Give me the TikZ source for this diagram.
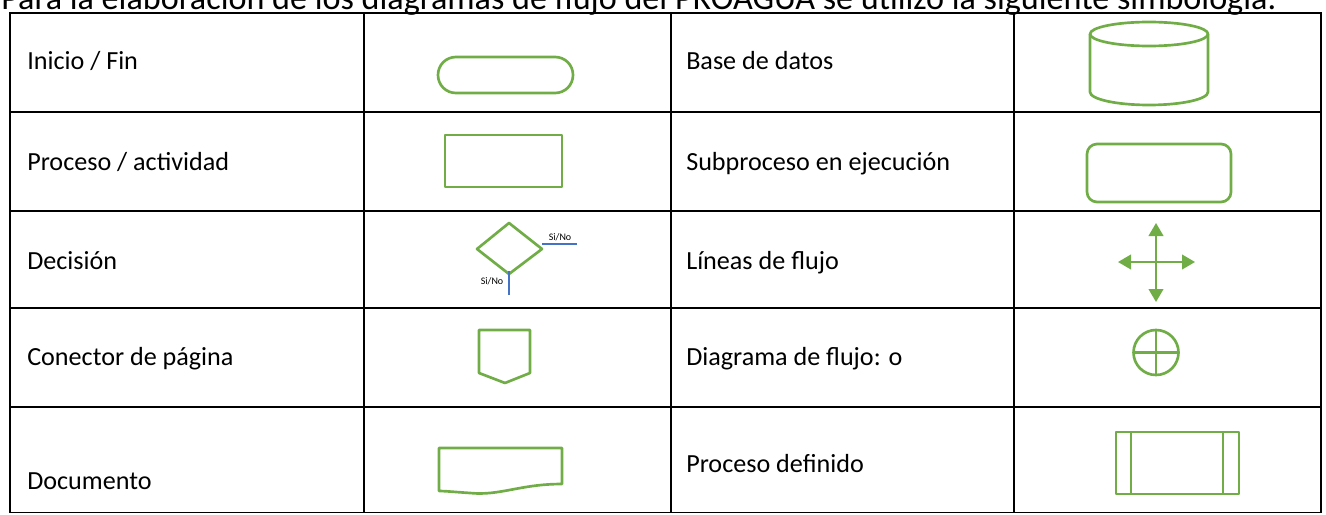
\documentclass[tikz,border=0pt]{standalone}
\usepackage{fontspec}
\setmainfont{Carlito}
\usetikzlibrary{arrows.meta}
\definecolor{sgreen}{HTML}{70AD47}
\definecolor{sblue}{HTML}{4472C4}
\tikzset{
  grid/.style={line width=1.2pt, black},
  sym/.style={line width=2pt, sgreen, line join=round},
  flow/.style={line width=1.1pt, sblue},
  lbl/.style={anchor=base west, inner sep=0pt, font=\fontsize{19.6pt}{23pt}\selectfont},
  headlbl/.style={anchor=base west, inner sep=0pt, font=\fontsize{25.6pt}{30pt}\selectfont},
  tiny/.style={inner sep=0pt, font=\fontsize{7.5pt}{9pt}\selectfont},
  tip/.style={-{Triangle[length=9.75pt, width=11pt]}, line width=1.5pt, sgreen}
}
\begin{document}
\begin{tikzpicture}[x=0.75pt, y=-0.75pt]
\clip (0,0) rectangle (1326,514);
\useasboundingbox (0,0) rectangle (1326,514);
% header
\node[headlbl] (head) at (1,9) {Para la elaboración de los diagramas de flujo del PROAGUA se utilizó la siguiente simbología:};
% table grid
\draw[grid] (10,13) rectangle (1321,512.5);
\foreach \x in {364,671,1014} \draw[grid] (\x,13) -- (\x,512.5);
\foreach \y in {112,211,308,407} \draw[grid] (10,\y) -- (1321,\y);
% labels
\node[lbl] (t1) at (27,69) {Inicio / Fin};
\node[lbl] (t2) at (27,170) {Proceso / actividad};
\node[lbl] (t3) at (27,269) {Decisión};
\node[lbl] (t4) at (27,365) {Conector de página};
\node[lbl] (t5) at (27,489) {Documento};
\node[lbl] (u1) at (686,69) {Base de datos};
\node[lbl] (u2) at (686,170) {Subproceso en ejecución};
\node[lbl] (u3) at (686,269) {Líneas de flujo};
\node[lbl] (u4) at (686,365) {Diagrama de flujo: o};
\node[lbl] (u5) at (686,472) {Proceso definido};
% terminator
\draw[sym, rounded corners=13.4pt] (438,57) rectangle (573,93);
% process
\draw[sym] (445,135) rectangle (562,187);
% decision
\draw[sym] (509,223) -- (542,249) -- (509,274) -- (477,249) -- cycle;
\draw[flow] (542,244) -- (577,244);
\draw[flow] (509,271) -- (509,295);
\node[tiny] (d1) at (560,237) {Si/No};
\node[tiny] (d2) at (492,281) {Si/No};
% off-page connector
\draw[sym] (479,330) -- (530,330) -- (530,373) -- (505,383) -- (479,373) -- cycle;
% document
\draw[sym] (439,448) -- (562,448) -- (562,484)
  .. controls (520,484) and (500,496) .. (470,493)
  .. controls (455,492) and (445,491) .. (439,491) -- cycle;
% database
\draw[sym] (1149,34) ellipse [x radius=59, y radius=12];
\draw[sym] (1090,34) -- (1090,92)
  .. controls (1090,99.2) and (1116.4,105) .. (1149,105)
  .. controls (1181.6,105) and (1208,99.2) .. (1208,92) -- (1208,34);
% subprocess
\draw[sym, rounded corners=7.5pt] (1087,144) rectangle (1231,202);
% flow lines
\coordinate (fc) at (1156,262);
\draw[tip] (fc) -- (1156,223);
\draw[tip] (fc) -- (1156,302);
\draw[tip] (fc) -- (1118,262);
\draw[tip] (fc) -- (1195,262);
% or
\draw[sym] (1156,352.5) circle [radius=22.5];
\draw[sym] (1133.5,352.5) -- (1178.5,352.5);
\draw[sym] (1156,330) -- (1156,375);
% predefined process
\draw[sym] (1116,432) rectangle (1239,494);
\draw[sym] (1131,432) -- (1131,494);
\draw[sym] (1223,432) -- (1223,494);
\end{tikzpicture}
\end{document}
